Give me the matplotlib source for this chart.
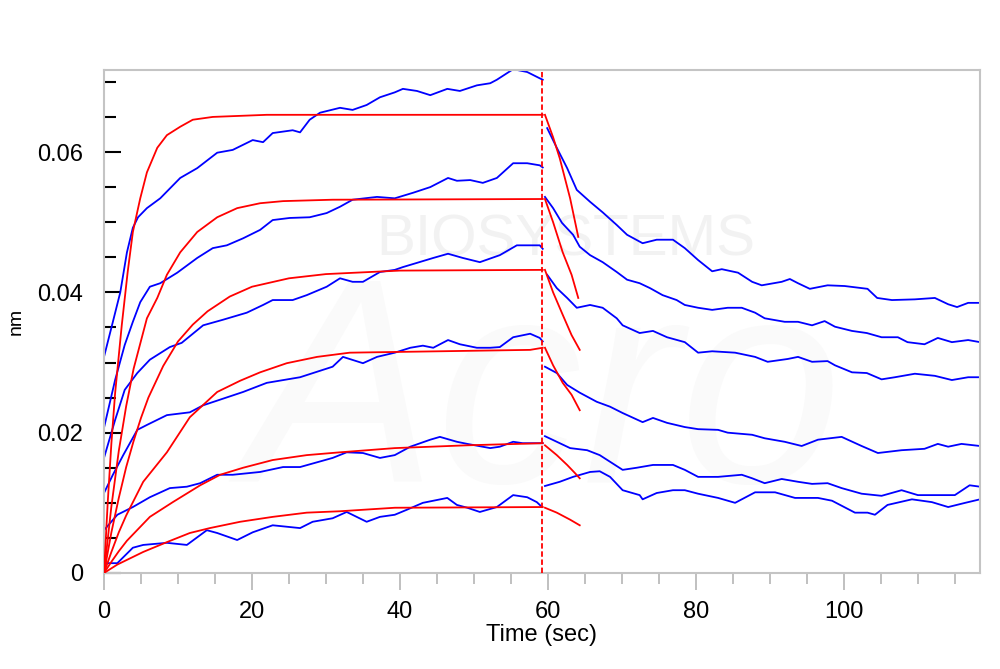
import matplotlib.pyplot as plt
from matplotlib.ticker import MultipleLocator

plt.rcParams['font.family'] = ['Liberation Sans', 'DejaVu Sans']

# association phase, measured (blue)
b1_t = [0, 1.2, 2.2, 3.1, 3.9, 4.6, 5.8, 7.6, 10.3, 12.6, 15.3, 17.4, 20.1, 21.5, 22.8, 25.5, 26.5, 27.8, 29.2,
        31.9, 33.6, 35.5, 37.3, 39.3, 40.4, 42.3, 44.1, 46.4, 48.1, 50.4, 52.2, 53.1, 55.3, 57.2, 58.9, 59.3]
b1_v = [0.0308, 0.0358, 0.0400, 0.0457, 0.0492, 0.0507, 0.0520, 0.0534, 0.0563, 0.0577, 0.0599, 0.0603, 0.0617,
        0.0614, 0.0627, 0.0631, 0.0628, 0.0646, 0.0656, 0.0663, 0.0660, 0.0667, 0.0678, 0.0685, 0.0690, 0.0687,
        0.0681, 0.0690, 0.0687, 0.0695, 0.0698, 0.0703, 0.0718, 0.0714, 0.0705, 0.0703]
b2_t = [0, 1.5, 2.8, 3.9, 4.9, 6.2, 7.6, 9.9, 12.6, 14.7, 16.6, 18.8, 21.1, 22.8, 25.1, 27.8, 30.1, 31.9, 33.6,
        36.9, 39.3, 41.8, 44.1, 46.5, 47.7, 49.5, 51.2, 53.1, 55.3, 57.2, 58.9, 59.3]
b2_v = [0.0207, 0.0275, 0.0325, 0.0358, 0.0386, 0.0408, 0.0413, 0.0428, 0.0449, 0.0463, 0.0467, 0.0477, 0.0489,
        0.0503, 0.0506, 0.0507, 0.0513, 0.0522, 0.0532, 0.0536, 0.0534, 0.0542, 0.0550, 0.0563, 0.0559, 0.0560,
        0.0556, 0.0563, 0.0584, 0.0584, 0.0581, 0.0578]
b3_t = [0, 1.5, 2.8, 4.5, 6.2, 8.9, 10.5, 13.4, 16.1, 19.3, 21.5, 22.8, 25.5, 27.4, 30.1, 31.9, 33.6, 35.0, 37.3,
        39.3, 40.4, 42.3, 44.5, 46.5, 48.5, 50.8, 53.5, 55.8, 58.9, 59.3]
b3_v = [0.0164, 0.0218, 0.0261, 0.0285, 0.0304, 0.0322, 0.0328, 0.0353, 0.0361, 0.0371, 0.0382, 0.0389, 0.0389,
        0.0396, 0.0408, 0.0420, 0.0415, 0.0415, 0.0429, 0.0432, 0.0436, 0.0442, 0.0449, 0.0455, 0.0449, 0.0443,
        0.0453, 0.0467, 0.0467, 0.0462]
b4_t = [0, 1.2, 2.6, 4.5, 5.8, 8.5, 11.6, 13.4, 18.8, 22.0, 26.5, 30.9, 32.3, 35.0, 36.9, 39.3, 41.4, 43.1, 44.5,
        46.5, 48.1, 50.4, 52.2, 53.5, 55.3, 57.6, 58.9, 59.3]
b4_v = [0.0114, 0.0140, 0.0168, 0.0204, 0.0211, 0.0225, 0.0229, 0.0239, 0.0258, 0.0271, 0.0279, 0.0294, 0.0308,
        0.0299, 0.0308, 0.0314, 0.0321, 0.0324, 0.0321, 0.0332, 0.0326, 0.0321, 0.0321, 0.0322, 0.0336, 0.0341,
        0.0335, 0.0330]
b5_t = [0, 1.8, 3.9, 6.2, 8.9, 11.2, 13.0, 15.3, 17.4, 21.1, 24.2, 26.5, 30.9, 32.8, 35.0, 37.3, 39.3, 41.4, 44.1,
        45.4, 47.7, 49.1, 52.2, 53.5, 55.3, 56.6, 58.9, 59.3]
b5_v = [0.0061, 0.0083, 0.0094, 0.0108, 0.0121, 0.0123, 0.0128, 0.0140, 0.0140, 0.0144, 0.0151, 0.0151, 0.0164,
        0.0172, 0.0171, 0.0164, 0.0168, 0.0180, 0.0190, 0.0194, 0.0187, 0.0184, 0.0178, 0.0180, 0.0187, 0.0185,
        0.0185, 0.0185]
b6_t = [0, 1.8, 3.9, 5.3, 8.5, 11.2, 13.9, 15.3, 18.0, 20.1, 22.8, 26.5, 28.2, 30.9, 32.8, 35.5, 37.3, 39.3, 40.9,
        43.1, 46.4, 47.7, 49.1, 50.8, 53.1, 55.3, 57.2, 58.5, 59.2]
b6_v = [0.0014, 0.0014, 0.0036, 0.0040, 0.0043, 0.0040, 0.0061, 0.0057, 0.0047, 0.0058, 0.0068, 0.0064, 0.0073,
        0.0078, 0.0087, 0.0073, 0.0080, 0.0083, 0.0090, 0.0100, 0.0107, 0.0097, 0.0093, 0.0087, 0.0094, 0.0111,
        0.0108, 0.0101, 0.0094]

# dissociation phase, measured (blue)
d1_t = [59.9, 61.2, 62.6, 63.9, 65.7, 67.4, 69.3, 70.7, 72.8, 74.7, 76.9, 78.5, 80.3, 82.2, 83.5, 85.7, 87.6, 88.9,
        91.6, 92.7, 93.8, 95.4, 97.8, 100.1, 103.2, 104.5, 106.5, 109.6, 112.3, 114.1, 115.3, 116.8, 118.4]
d1_v = [0.0634, 0.0606, 0.0577, 0.0546, 0.0529, 0.0514, 0.0496, 0.0482, 0.0470, 0.0475, 0.0475, 0.0463, 0.0446,
        0.0430, 0.0433, 0.0428, 0.0415, 0.0410, 0.0415, 0.0419, 0.0413, 0.0405, 0.0410, 0.0409, 0.0405, 0.0392,
        0.0389, 0.0390, 0.0392, 0.0383, 0.0379, 0.0385, 0.0385]
d2_t = [59.6, 60.7, 61.9, 63.4, 64.3, 65.7, 67.4, 69.3, 70.7, 72.4, 73.8, 75.5, 77.4, 78.5, 80.3, 82.2, 84.3, 86.2,
        88.0, 89.3, 92.0, 93.8, 95.7, 97.4, 98.8, 101.1, 103.1, 105.1, 107.3, 108.6, 110.9, 112.7, 114.6, 116.8,
        118.4]
d2_v = [0.0536, 0.0520, 0.0499, 0.0482, 0.0465, 0.0453, 0.0443, 0.0429, 0.0418, 0.0413, 0.0406, 0.0396, 0.0389,
        0.0382, 0.0378, 0.0375, 0.0378, 0.0378, 0.0371, 0.0363, 0.0358, 0.0358, 0.0353, 0.0359, 0.0351, 0.0345,
        0.0342, 0.0336, 0.0336, 0.0329, 0.0326, 0.0335, 0.0329, 0.0332, 0.0329]
d3_t = [59.9, 61.2, 62.6, 63.9, 65.7, 67.4, 69.3, 70.1, 72.4, 74.2, 76.1, 78.5, 80.3, 82.2, 85.3, 88.0, 89.7, 92.4,
        93.8, 95.7, 97.8, 98.8, 101.1, 103.1, 105.1, 106.9, 109.6, 112.3, 114.6, 116.8, 118.4]
d3_v = [0.0425, 0.0406, 0.0392, 0.0378, 0.0382, 0.0378, 0.0363, 0.0353, 0.0342, 0.0345, 0.0336, 0.0329, 0.0314,
        0.0316, 0.0314, 0.0308, 0.0301, 0.0305, 0.0308, 0.0301, 0.0302, 0.0296, 0.0286, 0.0285, 0.0276, 0.0279,
        0.0284, 0.0281, 0.0275, 0.0279, 0.0279]
d4_t = [59.6, 61.2, 62.6, 64.3, 66.6, 68.4, 70.1, 72.8, 74.2, 76.1, 78.5, 80.3, 83.0, 84.3, 87.6, 89.3, 92.0, 94.3,
        96.5, 99.7, 102.4, 104.6, 107.8, 110.9, 112.7, 114.1, 115.9, 118.4]
d4_v = [0.0294, 0.0285, 0.0268, 0.0257, 0.0244, 0.0237, 0.0228, 0.0215, 0.0221, 0.0214, 0.0208, 0.0205, 0.0204,
        0.0200, 0.0197, 0.0192, 0.0187, 0.0181, 0.0190, 0.0194, 0.0181, 0.0171, 0.0175, 0.0177, 0.0184, 0.0180,
        0.0184, 0.0181]
d5_t = [59.6, 61.2, 63.0, 65.3, 67.0, 70.1, 72.0, 74.2, 76.9, 78.5, 80.3, 83.0, 86.2, 87.6, 89.3, 91.6, 93.8, 95.7,
        97.8, 99.7, 102.4, 105.1, 107.8, 110.0, 112.7, 115.0, 117.0, 118.4]
d5_v = [0.0195, 0.0187, 0.0178, 0.0175, 0.0168, 0.0147, 0.0150, 0.0154, 0.0154, 0.0147, 0.0137, 0.0137, 0.0140,
        0.0135, 0.0128, 0.0134, 0.0130, 0.0127, 0.0128, 0.0121, 0.0113, 0.0110, 0.0118, 0.0111, 0.0111, 0.0111,
        0.0125, 0.0123]
d6_t = [59.6, 61.6, 63.4, 65.7, 67.0, 68.4, 70.1, 72.4, 72.8, 74.7, 76.9, 78.5, 80.3, 83.0, 85.3, 88.0, 90.7, 93.4,
        96.5, 98.4, 101.5, 103.2, 104.2, 105.9, 109.2, 111.9, 114.1, 116.4, 118.4]
d6_v = [0.0124, 0.0130, 0.0137, 0.0144, 0.0145, 0.0137, 0.0118, 0.0111, 0.0105, 0.0114, 0.0118, 0.0118, 0.0113,
        0.0107, 0.0100, 0.0115, 0.0115, 0.0107, 0.0107, 0.0103, 0.0086, 0.0086, 0.0083, 0.0097, 0.0105, 0.0101,
        0.0094, 0.0100, 0.0105]

# fitted curves (red), association
f1_t = [0, 0.5, 1, 1.5, 2.4, 3.2, 3.9, 4.9, 5.8, 7.2, 8.5, 10.3, 12.0, 14.7, 22.0, 59.3]
f1_v = [0, 0.0100, 0.0185, 0.0256, 0.0353, 0.0429, 0.0486, 0.0534, 0.0571, 0.0606, 0.0624, 0.0636, 0.0646, 0.0650,
        0.0653, 0.0653]
f2_t = [0, 1, 2, 3, 4, 5.8, 7.2, 8.5, 10.3, 12.6, 15.3, 18.0, 21.1, 24.2, 30.9, 59.3]
f2_v = [0, 0.0095, 0.0174, 0.0238, 0.0291, 0.0363, 0.0392, 0.0425, 0.0457, 0.0486, 0.0507, 0.0520, 0.0527, 0.0530,
        0.0532, 0.0533]
f3_t = [0, 1, 2, 3, 4, 5, 6, 8, 10, 12, 14, 17, 20, 25, 30, 40, 59.3]
f3_v = [0, 0.0058, 0.0107, 0.0151, 0.0188, 0.0221, 0.0250, 0.0295, 0.0330, 0.0354, 0.0373, 0.0394, 0.0408, 0.0420,
        0.0426, 0.0431, 0.0432]
f4_t = [0, 1, 2, 3, 5.3, 8.5, 11.6, 15.3, 18.4, 21.1, 24.7, 28.8, 33.2, 39.3, 57.6, 59.3]
f4_v = [0, 0.0030, 0.0058, 0.0082, 0.0130, 0.0172, 0.0222, 0.0258, 0.0274, 0.0286, 0.0299, 0.0308, 0.0314, 0.0315,
        0.0318, 0.0321]
f5_t = [0, 1, 2, 3.1, 6.2, 9.3, 13.0, 15.7, 18.8, 22.8, 27.4, 31.9, 39.3, 49.1, 59.3]
f5_v = [0, 0.0016, 0.0031, 0.0046, 0.0080, 0.0101, 0.0125, 0.0140, 0.0150, 0.0161, 0.0168, 0.0172, 0.0178, 0.0182,
        0.0185]
f6_t = [0, 1.8, 5.3, 8.5, 11.6, 14.3, 18.4, 22.8, 27.4, 31.9, 39.3, 59.3]
f6_v = [0, 0.0012, 0.0030, 0.0044, 0.0057, 0.0064, 0.0073, 0.0080, 0.0086, 0.0088, 0.0093, 0.0094]

# fitted curves (red), start of dissociation
g1_t = [59.6, 60.7, 61.6, 63.0, 64.1]
g1_v = [0.0653, 0.0621, 0.0591, 0.0534, 0.0479]
g2_t = [59.6, 60.7, 62.0, 63.2, 64.1]
g2_v = [0.0533, 0.0500, 0.0457, 0.0425, 0.0392]
g3_t = [59.6, 60.7, 62.0, 63.2, 64.3]
g3_v = [0.0432, 0.0400, 0.0368, 0.0339, 0.0318]
g4_t = [59.6, 60.7, 62.0, 63.2, 64.3]
g4_v = [0.0321, 0.0296, 0.0271, 0.0254, 0.0232]
g5_t = [59.6, 61.2, 62.6, 63.6, 64.3]
g5_v = [0.0182, 0.0168, 0.0154, 0.0143, 0.0135]
g6_t = [59.6, 61.2, 63.0, 64.3]
g6_v = [0.0093, 0.0086, 0.0076, 0.0068]

switch_t = 59.2

fig = plt.figure(figsize=(10, 6.69), dpi=100)
ax = fig.add_axes([0.104, 0.1435, 0.876, 0.752])

# faint watermark
ax.text(0.527, 0.66, 'BIOSYSTEMS', transform=ax.transAxes, fontsize=42, color='#f2f2f2',
        ha='center', va='center', zorder=0)
ax.text(0.5, 0.33, 'Acro', transform=ax.transAxes, fontsize=210, color='#fafafa',
        ha='center', va='center', style='italic', zorder=0)

for t, v in [(b1_t, b1_v), (b2_t, b2_v), (b3_t, b3_v), (b4_t, b4_v), (b5_t, b5_v), (b6_t, b6_v),
             (d1_t, d1_v), (d2_t, d2_v), (d3_t, d3_v), (d4_t, d4_v), (d5_t, d5_v), (d6_t, d6_v)]:
    ax.plot(t, v, color='#0000ff', lw=1.3, zorder=2)

for t, v in [(f1_t, f1_v), (f2_t, f2_v), (f3_t, f3_v), (f4_t, f4_v), (f5_t, f5_v), (f6_t, f6_v),
             (g1_t, g1_v), (g2_t, g2_v), (g3_t, g3_v), (g4_t, g4_v), (g5_t, g5_v), (g6_t, g6_v)]:
    ax.plot(t, v, color='#ff0000', lw=1.3, zorder=3)

ax.axvline(switch_t, color='#ff0000', lw=1.3, ls=(0, (3, 1.5)), zorder=3)

ax.set_xlim(0, 118.4)
ax.xaxis.set_major_locator(MultipleLocator(20))
ax.xaxis.set_minor_locator(MultipleLocator(5))
ax.yaxis.set_major_locator(MultipleLocator(0.02))
ax.yaxis.set_minor_locator(MultipleLocator(0.005))
ax.set_ylim(0, 0.0717)
ax.set_yticks([0, 0.02, 0.04, 0.06], ['0', '0.02', '0.04', '0.06'])

ax.tick_params(axis='x', which='major', direction='out', length=12, width=1.4, color='#c0c0c0',
               labelsize=17, pad=8)
ax.tick_params(axis='x', which='minor', direction='out', length=8, width=1.4, color='#c0c0c0')
ax.tick_params(axis='y', which='major', direction='in', length=12, width=1.5, color='black',
               labelsize=17, pad=15)
ax.tick_params(axis='y', which='minor', direction='in', length=8.5, width=1.5, color='black')

for s in ax.spines.values():
    s.set_color('#c4c4c4')
    s.set_linewidth(1.5)

ax.set_xlabel('Time (sec)', fontsize=17, labelpad=1)
ax.set_ylabel('nm', fontsize=14, labelpad=9)

fig.savefig('out.png', dpi=100)
